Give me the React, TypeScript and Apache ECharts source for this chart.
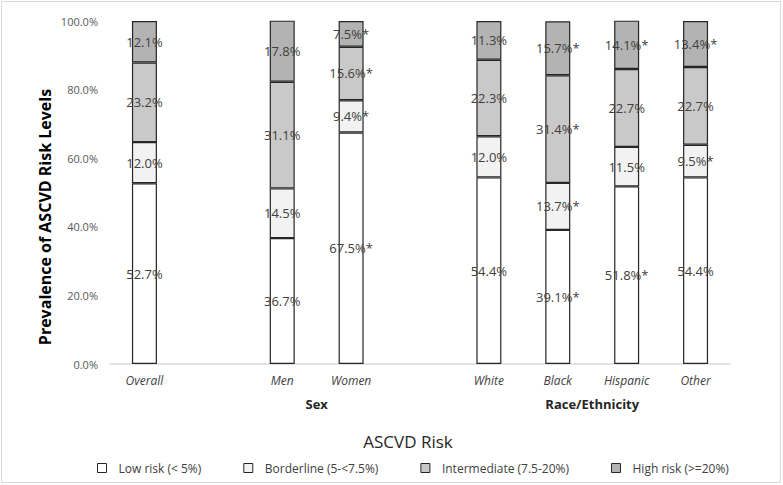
import React, { useEffect, useRef } from "react";
import * as echarts from "echarts";

const categories = ["Overall", "", "Men", "Women", "", "White", "Black", "Hispanic", "Other"];
const seriesNames = ["Low risk (< 5%)", "Borderline (5-<7.5%)", "Intermediate (7.5-20%)", "High risk (>=20%)"];
const lowRisk = [52.7, null, 36.7, 67.5, null, 54.4, 39.1, 51.8, 54.4];
const borderline = [12.0, null, 14.5, 9.4, null, 12.0, 13.7, 11.5, 9.5];
const intermediate = [23.2, null, 31.1, 15.6, null, 22.3, 31.4, 22.7, 22.7];
const highRisk = [12.1, null, 17.8, 7.5, null, 11.3, 15.7, 14.1, 13.4];
const lowStar = [false, false, false, true, false, false, true, true, false];
const borderlineStar = [false, false, false, true, false, false, true, false, true];
const intermediateStar = [false, false, false, true, false, false, true, false, false];
const highStar = [false, false, false, true, false, false, true, true, true];
const yTicks = [0, 20, 40, 60, 80, 100];
const groups = [
  { name: "Sex", from: "Men", to: "Women" },
  { name: "Race/Ethnicity", from: "White", to: "Other" },
];

const colors = ["#ffffff", "#f2f2f2", "#c9c9c9", "#b3b3b3"];
const FONT = "'Open Sans', 'Liberation Sans', sans-serif";

export default function App() {
  const ref = useRef<HTMLDivElement>(null);
  useEffect(() => {
    document.body.style.margin = "0";
    if (!ref.current) return;
    const chart = echarts.init(ref.current, undefined, { renderer: "svg" });
    const values = [lowRisk, borderline, intermediate, highRisk];
    const stars = [lowStar, borderlineStar, intermediateStar, highStar];
    const series = values.map((arr, si) => ({
      name: seriesNames[si],
      type: "bar",
      stack: "total",
      barWidth: 25,
      data: arr,
      itemStyle: { color: colors[si], borderColor: "#262626", borderWidth: 1.2 },
      label: {
        show: true,
        position: "inside",
        color: "#404040",
        textBorderWidth: 0,
        textBorderColor: "transparent",
        fontSize: 13,
        fontFamily: FONT,
        formatter: (p: any) =>
          p.value == null ? "" : `${Number(p.value).toFixed(1)}%${stars[si][p.dataIndex] ? "*" : ""}`,
      },
    }));
    const option: any = {
      animation: false,
      grid: { left: 110, right: 53, top: 21, bottom: 121, containLabel: false },
      xAxis: {
        type: "category",
        data: categories,
        axisLine: { show: true, lineStyle: { color: "#d9d9d9", width: 1.5 } },
        axisTick: { show: false },
        axisLabel: { fontStyle: "italic", color: "#404040", fontSize: 12, fontFamily: FONT, margin: 10, interval: 0 },
      },
      yAxis: {
        type: "value",
        min: 0,
        max: 100,
        interval: 20,
        splitLine: { show: false },
        axisLine: { show: false },
        axisTick: { show: false },
        axisLabel: {
          color: "#595959",
          fontSize: 11,
          fontFamily: FONT,
          margin: 12,
          formatter: (v: number) => (yTicks.includes(v) ? `${v.toFixed(1)}%` : ""),
        },
      },
      legend: {
        data: seriesNames,
        bottom: 6,
        left: 92,
        itemWidth: 9,
        itemHeight: 9,
        itemGap: 42,
        icon: "rect",
        itemStyle: { borderColor: "#262626", borderWidth: 1 },
        textStyle: { color: "#404040", fontSize: 12, fontFamily: FONT, padding: [0, 0, 0, 7] },
      },
      series,
    };
    chart.setOption(option);

    const graphics: any[] = [
      {
        type: "rect",
        shape: { x: 1.5, y: 1.5, width: 779, height: 481 },
        style: { fill: "none", stroke: "#d9d9d9", lineWidth: 1 },
        silent: true,
      },
      {
        type: "text",
        x: 45,
        y: 217,
        rotation: Math.PI / 2,
        style: {
          text: "Prevalence of ASCVD Risk Levels",
          align: "center",
          verticalAlign: "middle",
          fontSize: 16,
          fontWeight: "bold",
          fontFamily: FONT,
          fill: "#000000",
        },
      },
      {
        type: "text",
        x: 408,
        y: 441,
        style: {
          text: "ASCVD Risk",
          align: "center",
          verticalAlign: "middle",
          fontSize: 17,
          fontFamily: FONT,
          fill: "#262626",
        },
      },
    ];
    groups.forEach((g) => {
      const a = chart.convertToPixel({ xAxisIndex: 0 }, g.from) as number;
      const b = chart.convertToPixel({ xAxisIndex: 0 }, g.to) as number;
      graphics.push({
        type: "text",
        x: (a + b) / 2,
        y: 404,
        style: {
          text: g.name,
          align: "center",
          verticalAlign: "middle",
          fontSize: 13,
          fontWeight: "bold",
          fontFamily: FONT,
          fill: "#262626",
        },
      });
    });
    chart.setOption({ graphic: graphics });
    return () => chart.dispose();
  }, []);
  return <div ref={ref} style={{ width: 783, height: 485 }} />;
}
